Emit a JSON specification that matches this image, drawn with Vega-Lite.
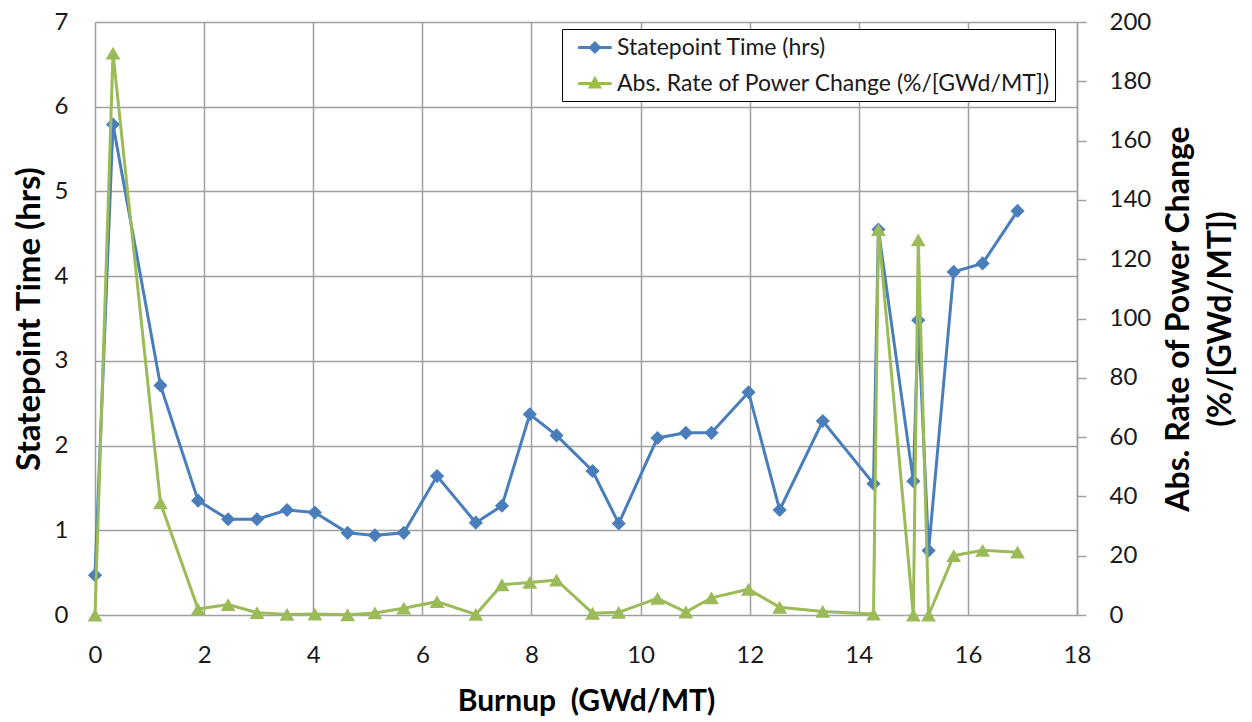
{
  "$schema": "https://vega.github.io/schema/vega-lite/v6.json",
  "width": 982,
  "height": 593,
  "autosize": "none",
  "padding": {"left": 95, "top": 22, "right": 175, "bottom": 107},
  "background": "white",
  "config": {
    "font": "Lato",
    "view": {"stroke": null},
    "axis": {
      "labelFont": "Lato",
      "titleFont": "Lato",
      "labelFontSize": 24,
      "titleFontSize": 30,
      "titleFontWeight": "bold",
      "labelColor": "#1a1a1a",
      "titleColor": "#000000",
      "gridColor": "#a0a0a0",
      "gridWidth": 1.5,
      "domain": false,
      "ticks": false,
      "labelFlush": false
    }
  },
  "data": {
    "values": [
      {"b": 0.0, "t": 0.47, "r": 0},
      {"b": 0.33, "t": 5.79, "r": 189.5},
      {"b": 1.2, "t": 2.71, "r": 37.8},
      {"b": 1.89, "t": 1.35, "r": 2},
      {"b": 2.44, "t": 1.13, "r": 3.5},
      {"b": 2.97, "t": 1.13, "r": 0.8},
      {"b": 3.52, "t": 1.24, "r": 0.2},
      {"b": 4.03, "t": 1.21, "r": 0.3},
      {"b": 4.63, "t": 0.97, "r": 0.1},
      {"b": 5.13, "t": 0.94, "r": 0.7},
      {"b": 5.66, "t": 0.97, "r": 2.3},
      {"b": 6.27, "t": 1.64, "r": 4.5},
      {"b": 6.98, "t": 1.09, "r": 0.2},
      {"b": 7.46, "t": 1.29, "r": 10.2},
      {"b": 7.97, "t": 2.37, "r": 11},
      {"b": 8.46, "t": 2.12, "r": 11.8},
      {"b": 9.12, "t": 1.7, "r": 0.6},
      {"b": 9.6, "t": 1.08, "r": 0.9},
      {"b": 10.31, "t": 2.09, "r": 5.6},
      {"b": 10.83, "t": 2.15, "r": 1},
      {"b": 11.3, "t": 2.15, "r": 5.8},
      {"b": 11.98, "t": 2.63, "r": 8.7},
      {"b": 12.55, "t": 1.24, "r": 2.6},
      {"b": 13.34, "t": 2.29, "r": 1.2},
      {"b": 14.27, "t": 1.55, "r": 0.3},
      {"b": 14.36, "t": 4.55, "r": 130},
      {"b": 15.0, "t": 1.58, "r": 0},
      {"b": 15.09, "t": 3.48, "r": 126.5},
      {"b": 15.28, "t": 0.76, "r": 0},
      {"b": 15.74, "t": 4.05, "r": 20},
      {"b": 16.27, "t": 4.15, "r": 21.8},
      {"b": 16.91, "t": 4.77, "r": 21.2}
    ]
  },
  "encoding": {
    "x": {
      "field": "b",
      "type": "quantitative",
      "scale": {"domain": [0, 18], "nice": false, "zero": false},
      "axis": {
        "values": [0, 2, 4, 6, 8, 10, 12, 14, 16, 18],
        "title": "Burnup\u00a0 (GWd/MT)",
        "labelPadding": 28,
        "titlePadding": 19,
        "grid": true
      }
    }
  },
  "layer": [
    {
      "encoding": {
        "y": {
          "field": "t",
          "type": "quantitative",
          "scale": {"domain": [0, 7], "nice": false},
          "axis": {
            "orient": "left",
            "values": [0, 1, 2, 3, 4, 5, 6, 7],
            "title": "Statepoint Time (hrs)",
            "titleFontSize": 33,
            "labelPadding": 27,
            "titlePadding": 8,
            "grid": true
          }
        },
        "color": {
          "datum": "Statepoint Time (hrs)",
          "scale": {
            "domain": ["Statepoint Time (hrs)", "Abs. Rate of Power Change (%/[GWd/MT])"],
            "range": ["#4a7ebb", "#9bbb59"]
          },
          "legend": {
            "orient": "none",
            "legendX": 467,
            "legendY": 7,
            "title": null,
            "labelFont": "Lato",
            "labelFontSize": 23,
            "labelColor": "#1a1a1a",
            "labelOffset": 23,
            "labelLimit": 1000,
            "symbolSize": 576,
            "symbolStrokeWidth": 3,
            "rowPadding": 10,
            "padding": 5,
            "strokeColor": "#000000",
            "fillColor": "#ffffff",
            "encode": {
              "symbols": {
                "update": {
                  "shape": {"signal": "datum.value === 'Statepoint Time (hrs)' ? 'M-0.2,0H2.6M0.83,0L1.2,-0.37L1.57,0L1.2,0.37Z' : 'M-0.2,0H2.6M0.82,0.3L1.2,-0.38L1.58,0.3Z'"},
                  "fill": {"signal": "datum.value === 'Statepoint Time (hrs)' ? '#4a7ebb' : '#9bbb59'"},
                  "stroke": {"signal": "datum.value === 'Statepoint Time (hrs)' ? '#4a7ebb' : '#9bbb59'"},
                  "strokeWidth": {"value": 3},
                  "opacity": {"value": 1},
                  "fillOpacity": {"value": 1}
                }
              }
            }
          }
        }
      },
      "layer": [
        {"mark": {"type": "line", "strokeWidth": 3}},
        {"mark": {"type": "point", "shape": "diamond", "filled": true, "opacity": 1, "size": 200}}
      ]
    },
    {
      "encoding": {
        "y": {
          "field": "r",
          "type": "quantitative",
          "scale": {"domain": [0, 200], "nice": false},
          "axis": {
            "orient": "right",
            "values": [0, 20, 40, 60, 80, 100, 120, 140, 160, 180, 200],
            "title": ["Abs. Rate of Power Change", "(%/[GWd/MT])"],
            "titleFontSize": 32,
            "titleAngle": 270,
            "titleBaseline": "top",
            "grid": false,
            "domain": true,
            "domainColor": "#a0a0a0",
            "domainWidth": 1.5,
            "ticks": true,
            "tickColor": "#a0a0a0",
            "tickWidth": 1.5,
            "tickSize": 9,
            "labelPadding": 23,
            "titlePadding": -29,
            "titleLineHeight": 42
          }
        },
        "color": {"datum": "Abs. Rate of Power Change (%/[GWd/MT])"}
      },
      "layer": [
        {"mark": {"type": "line", "strokeWidth": 3}},
        {"mark": {"type": "point", "shape": "triangle-up", "filled": true, "opacity": 1, "size": 220}}
      ]
    }
  ],
  "resolve": {"scale": {"y": "independent"}}
}
